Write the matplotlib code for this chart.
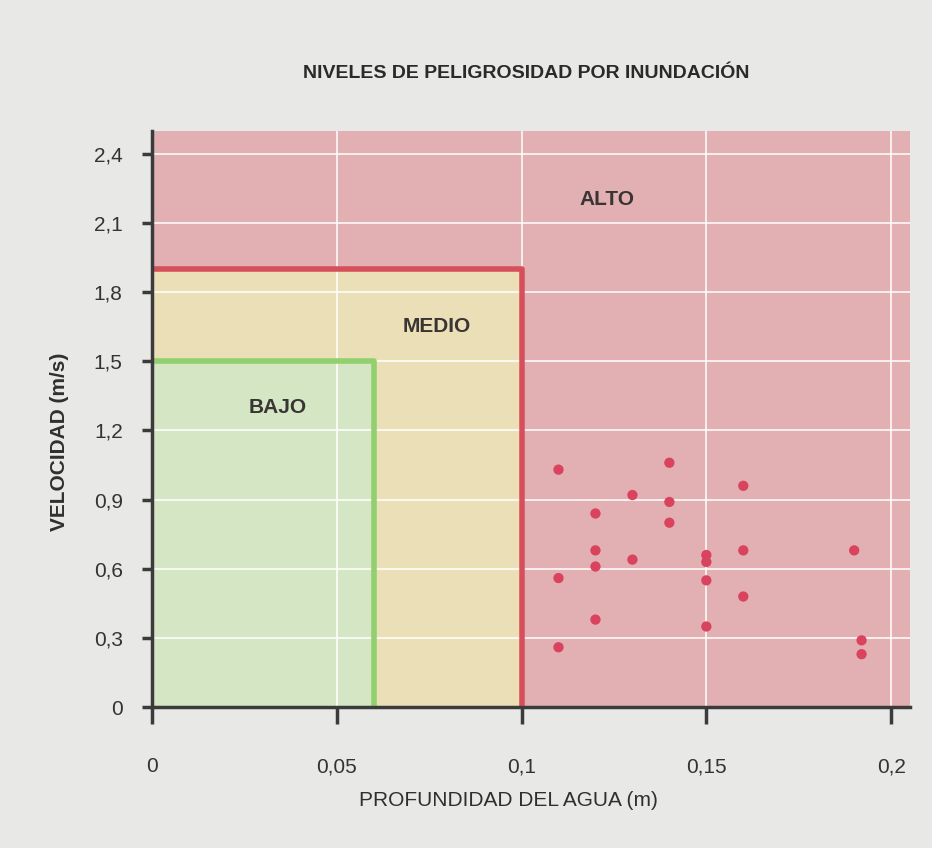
import matplotlib
matplotlib.use("Agg")
import matplotlib.pyplot as plt
from matplotlib.patches import Rectangle

# hazard zones: (name, max depth, max velocity)
zone_names = ["ALTO", "MEDIO", "BAJO"]
zone_depth = [0.205, 0.1, 0.06]
zone_velocity = [2.5, 1.9, 1.5]

# measured points
depth = [0.11, 0.14, 0.16, 0.13, 0.14, 0.12, 0.14, 0.12, 0.16, 0.19, 0.13,
         0.15, 0.15, 0.12, 0.11, 0.15, 0.16, 0.12, 0.15, 0.192, 0.11, 0.192]
velocity = [1.03, 1.06, 0.96, 0.92, 0.89, 0.84, 0.80, 0.68, 0.68, 0.68, 0.64,
            0.66, 0.63, 0.61, 0.56, 0.55, 0.48, 0.38, 0.35, 0.29, 0.26, 0.23]

x_ticks = [0, 0.05, 0.1, 0.15, 0.2]
x_labels = ["0", "0,05", "0,1", "0,15", "0,2"]
y_ticks = [0, 0.3, 0.6, 0.9, 1.2, 1.5, 1.8, 2.1, 2.4]
y_labels = ["0", "0,3", "0,6", "0,9", "1,2", "1,5", "1,8", "2,1", "2,4"]

plt.rcParams["font.family"] = ["Liberation Sans", "DejaVu Sans"]

fig = plt.figure(figsize=(9.32, 8.48), dpi=100)
fig.patch.set_facecolor("#e8e9e7")
ax = fig.add_axes([0.163, 0.166, 0.813, 0.68])

fills = ["#e2b0b2", "#eadfb6", "#d4e6c3"]
edges = [None, "#d6505c", "#92cf6e"]
for i in range(3):
    ax.add_patch(Rectangle((0, 0), zone_depth[i], zone_velocity[i],
                           facecolor=fills[i], edgecolor="none", zorder=1))
for i in range(1, 3):
    ax.plot([0, zone_depth[i], zone_depth[i]],
            [zone_velocity[i], zone_velocity[i], 0],
            color=edges[i], lw=4, zorder=3, solid_capstyle="butt")

ax.scatter(depth, velocity, s=55, color="#d9435e", zorder=4, edgecolors="none")

label_pos = [(0.123, 2.2), (0.077, 1.65), (0.034, 1.3)]
for name, (lx, ly) in zip(zone_names, label_pos):
    ax.text(lx, ly, name, ha="center", va="center", fontsize=15,
            fontweight="bold", color="#3a3434", zorder=5)

ax.set_xlim(0, zone_depth[0])
ax.set_ylim(0, zone_velocity[0])
ax.set_xticks(x_ticks)
ax.set_xticklabels(x_labels)
ax.set_yticks(y_ticks)
ax.set_yticklabels(y_labels)
ax.set_axisbelow(False)
ax.grid(True, color="white", lw=1.4, alpha=0.8)

for s in ["top", "right"]:
    ax.spines[s].set_visible(False)
for s in ["left", "bottom"]:
    ax.spines[s].set_color("#3b3b3b")
    ax.spines[s].set_linewidth(2.5)
    ax.spines[s].set_zorder(6)

ax.tick_params(axis="y", direction="out", length=7, width=2.5, color="#3b3b3b",
               labelsize=15, labelcolor="#333333", pad=14)
ax.tick_params(axis="x", direction="out", length=12, width=2.5, color="#3b3b3b",
               labelsize=15, labelcolor="#333333", pad=24)

ax.set_xlabel("PROFUNDIDAD DEL AGUA (m)", fontsize=15, color="#2f2f2f")
ax.xaxis.set_label_coords(0.47, -0.145)
ax.set_ylabel("VELOCIDAD (m/s)", fontsize=15, fontweight="bold", color="#2f2f2f")
ax.yaxis.set_label_coords(-0.11, 0.46)
fig.text(0.565, 0.913, "NIVELES DE PELIGROSIDAD POR INUNDACIÓN", ha="center",
         va="center", fontsize=14, fontweight="bold", color="#2a2a2a")

fig.savefig("out.png", dpi=100, facecolor=fig.get_facecolor())
